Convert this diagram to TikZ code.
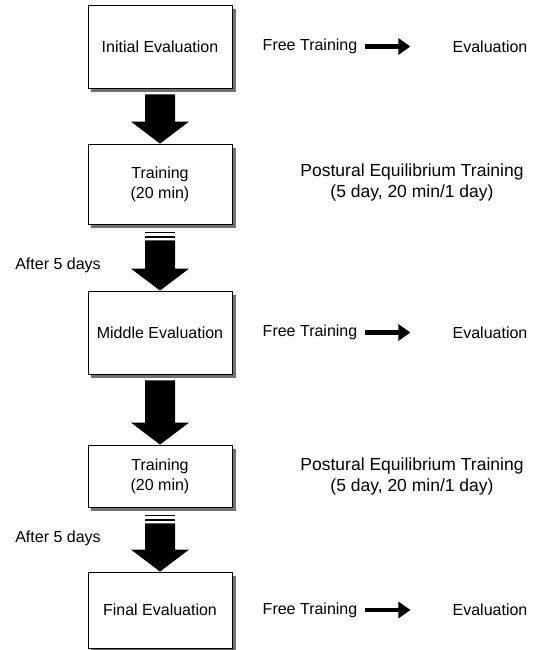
\documentclass[tikz,border=0pt]{standalone}
\usepackage{fontspec}
\setmainfont{Liberation Sans}
\usetikzlibrary{positioning, arrows.meta, calc}
\tikzset{
  stage/.style={rectangle, draw=black, line width=0.8pt, fill=white, minimum width=144pt, text centered, align=center, inner sep=0pt},
  stageshadow/.style={fill=black!55},
  note/.style={align=center, inner sep=1pt},
  smallarrow/.style={line width=4.5pt, -{Triangle[length=12pt, width=16pt]}, shorten <=7pt, shorten >=41pt}
}
% Flecha gruesa entre dos etapas
\newcommand{\fatarrow}[2]{
    \fill ($(#1.south)+(-15,6)$) -- ($(#1.south)+(15,6)$) -- ($(#2.north)+(15,-22)$) -- ($(#2.north)+(29,-22)$)
        -- (#2.north) -- ($(#2.north)+(-29,-22)$) -- ($(#2.north)+(-15,-22)$) -- cycle;
}
% Flecha gruesa con barras (despues de 5 dias)
\newcommand{\fatarrowbars}[2]{
    \fill ($(#1.south)+(-15,7.5)$) rectangle ($(#1.south)+(15,9)$);
    \fill ($(#1.south)+(-15,12)$) rectangle ($(#1.south)+(15,14)$);
    \fill ($(#1.south)+(-15,16)$) -- ($(#1.south)+(15,16)$) -- ($(#2.north)+(15,-22)$) -- ($(#2.north)+(29,-22)$)
        -- (#2.north) -- ($(#2.north)+(-29,-22)$) -- ($(#2.north)+(-15,-22)$) -- cycle;
}
\begin{document}
\begin{tikzpicture}[x=1pt, y=-1pt, font=\fontsize{16}{20}\selectfont]
    \useasboundingbox (0,0) rectangle (543,650);

    % Etapas
    \node[stage, minimum height=83pt] (ini) at (160, 46.5) {Initial Evaluation};
    \node[stage, minimum height=80pt] (trainA) at (160, 184) {Training\\(20 min)};
    \node[stage, minimum height=83pt] (mid) at (160, 332.5) {Middle Evaluation};
    \node[stage, minimum height=62pt] (trainB) at (160, 476) {Training\\(20 min)};
    \node[stage, minimum height=76pt] (fin) at (160, 610) {Final Evaluation};

    % Sombras de las etapas (borde derecho e inferior)
    \foreach \n in {ini, trainA, mid, trainB, fin} {
        \fill[stageshadow] ($(\n.south west)+(3.5,0.4)$) rectangle ($(\n.south east)+(3.5,4)$);
        \fill[stageshadow] ($(\n.north east)+(0.4,4)$) rectangle ($(\n.south east)+(3.5,4)$);
    }

    % Flechas entre etapas
    \fatarrow{ini}{trainA}
    \fatarrowbars{trainA}{mid}
    \fatarrow{mid}{trainB}
    \fatarrowbars{trainB}{fin}

    % Etiquetas de la izquierda
    \node[note] (afterA) at (58, 265) {After 5 days};
    \node[note] (afterB) at (58, 538) {After 5 days};

    % Descripciones de la derecha
    \foreach \row/\y in {A/46.5, B/332.5, C/610} {
        \node[note] (ft\row) at (310, \y) {Free Training};
        \node[note] (ev\row) at (490, \y) {Evaluation};
        \draw[smallarrow] (ft\row.east) -- (ev\row.west);
    }
    \node[note, font=\fontsize{17.5}{21}\selectfont] (postA) at (412, 182) {Postural Equilibrium Training\\(5 day, 20 min/1 day)};
    \node[note, font=\fontsize{17.5}{21}\selectfont] (postB) at (412, 476) {Postural Equilibrium Training\\(5 day, 20 min/1 day)};

\end{tikzpicture}
\end{document}
